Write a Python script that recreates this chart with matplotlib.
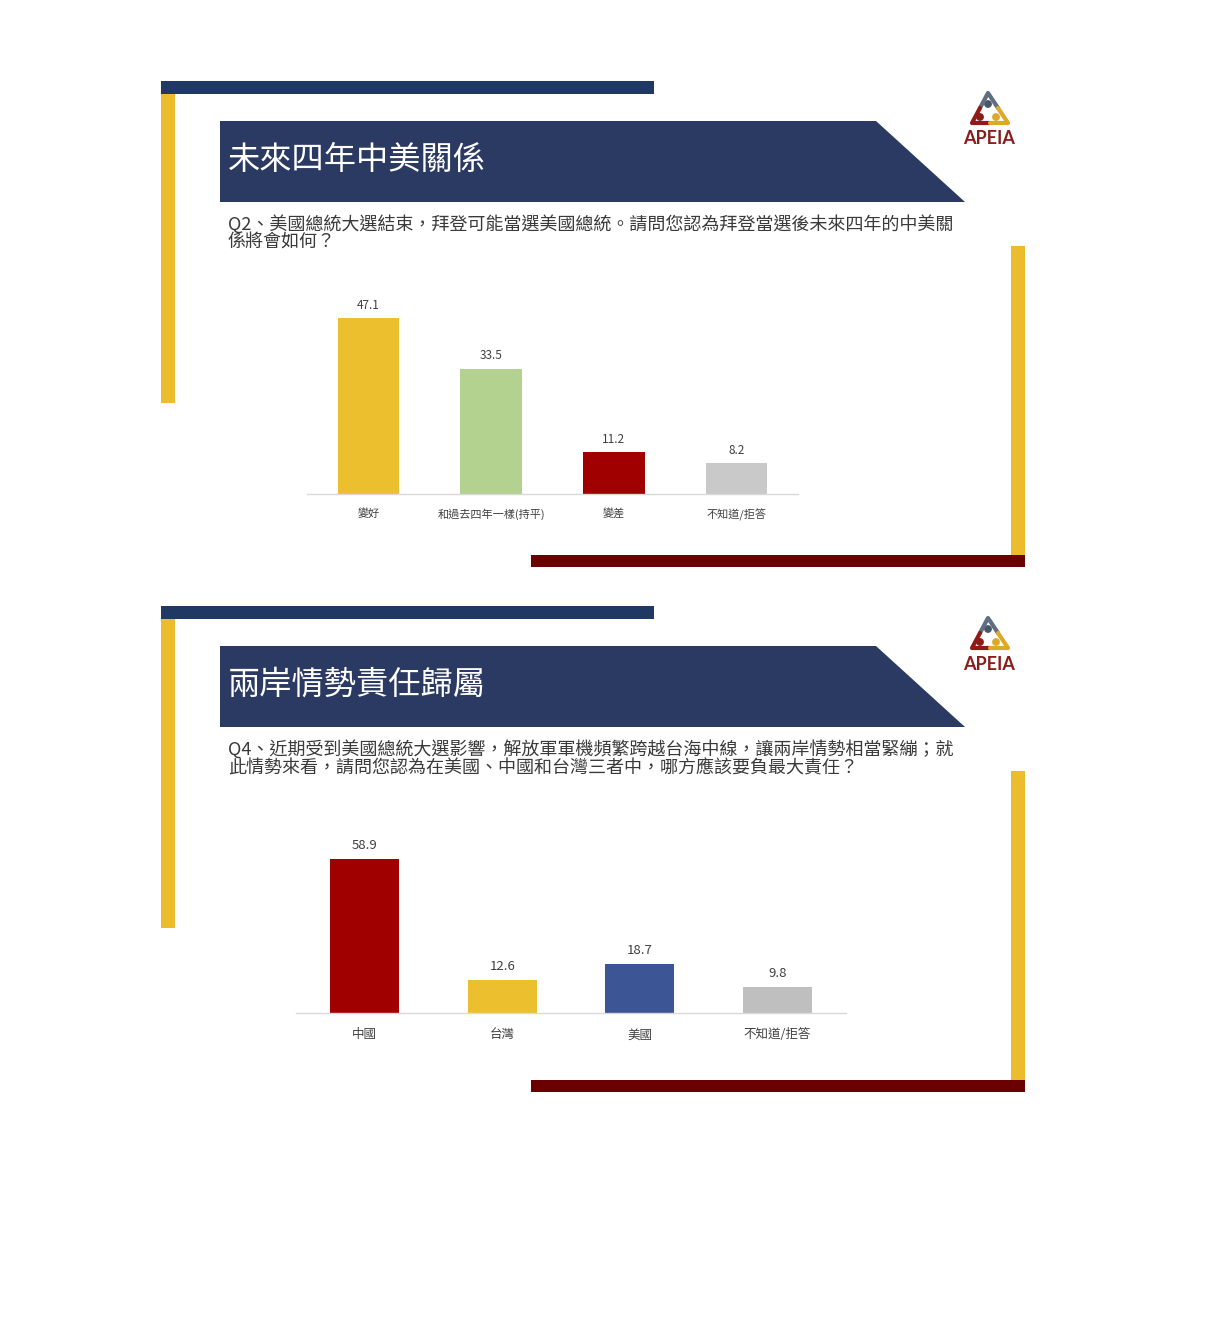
import matplotlib
matplotlib.use("Agg")
import matplotlib.pyplot as plt
from matplotlib.patches import Polygon, Rectangle, Circle

plt.rcParams['font.family'] = ['Noto Sans CJK TC', 'DejaVu Sans']

W, H = 1224, 1319

# chart data
q2_title = "未來四年中美關係"
q2_lines = ["Q2、美國總統大選結束，拜登可能當選美國總統。請問您認為拜登當選後未來四年的中美關",
            "係將會如何？"]
q2_cats = ["變好", "和過去四年一樣(持平)", "變差", "不知道/拒答"]
q2_vals = [47.1, 33.5, 11.2, 8.2]
q2_colors = ["#EBBF2D", "#B3D18F", "#A10000", "#C9C9C9"]

q4_title = "兩岸情勢責任歸屬"
q4_lines = ["Q4、近期受到美國總統大選影響，解放軍軍機頻繁跨越台海中線，讓兩岸情勢相當緊繃；就",
            "此情勢來看，請問您認為在美國、中國和台灣三者中，哪方應該要負最大責任？"]
q4_cats = ["中國", "台灣", "美國", "不知道/拒答"]
q4_vals = [58.9, 12.6, 18.7, 9.8]
q4_colors = ["#A10000", "#EBBF2D", "#3C5594", "#BFBFBF"]

NAVY = "#1F3864"
BANNER = "#2B3A63"
YELLOW = "#EBBC2C"
DARKRED = "#6B0000"

fig = plt.figure(figsize=(W / 100, H / 100), dpi=100)
bg = fig.add_axes([0, 0, 1, 1])
bg.set_xlim(0, W)
bg.set_ylim(H, 0)
bg.axis('off')


def px_axes(left, top, right, bottom):
    return fig.add_axes([left / W, 1 - bottom / H, (right - left) / W, (bottom - top) / H])


def logo(cx, top):
    # small stylised triangle of the APEIA logo
    t = (cx, top + 10)
    bl = (cx - 16, top + 40)
    br = (cx + 20, top + 40)
    ml = ((t[0] + bl[0]) / 2, (t[1] + bl[1]) / 2)
    mr = ((t[0] + br[0]) / 2, (t[1] + br[1]) / 2)
    mb = ((bl[0] + br[0]) / 2, bl[1])
    bg.plot([ml[0], t[0], mr[0]], [ml[1], t[1], mr[1]], color="#5F6E80", lw=3, solid_capstyle='round')
    bg.plot([ml[0], bl[0], mb[0]], [ml[1], bl[1], mb[1]], color="#8E1B16", lw=3, solid_capstyle='round')
    bg.plot([mr[0], br[0], mb[0]], [mr[1], br[1], mb[1]], color="#E0A82A", lw=3, solid_capstyle='round')
    bg.add_patch(Circle((cx, top + 21), 3.2, color="#4A5565"))
    bg.add_patch(Circle((cx - 8, top + 34), 3.2, color="#8E1B16"))
    bg.add_patch(Circle((cx + 8, top + 34), 3.2, color="#E0A82A"))
    bg.text(cx + 1, top + 56, "APEIA", color="#8B1C1C", fontsize=13, ha='center', va='center',
            family=['Lato', 'DejaVu Sans'], fontweight='bold')


def slide(y0, title, lines):
    bg.add_patch(Rectangle((161, y0), 493, 13, color=NAVY, lw=0))
    bg.add_patch(Rectangle((161, y0 + 13), 14, 309, color=YELLOW, lw=0))
    bg.add_patch(Polygon([(220, y0 + 40), (876, y0 + 40), (965, y0 + 121), (220, y0 + 121)],
                         closed=True, color=BANNER, lw=0))
    bg.text(228, y0 + 79, title, color="white", fontsize=23.2, ha='left', va='center', fontweight='medium')
    for i, ln in enumerate(lines):
        bg.text(228, y0 + 143 + 19 * i, ln, color="#3A3A3A", fontsize=13, ha='left', va='center')
    bg.add_patch(Rectangle((1011, y0 + 165), 14, 321, color=YELLOW, lw=0))
    bg.add_patch(Rectangle((531, y0 + 474), 494, 12, color=DARKRED, lw=0))
    logo(988, y0 + 2)


def bars(ax, cats, vals, colors, ytop, lab_size, num_size, tick_pad, num_pad):
    x = range(len(cats))
    b = ax.bar(x, vals, width=0.5, color=colors)
    ax.bar_label(b, labels=[f"{v:.1f}" for v in vals], padding=num_pad, fontsize=num_size, color="#404040")
    ax.set_xlim(-0.5, len(cats) - 0.5)
    ax.set_ylim(0, ytop)
    ax.set_xticks(list(x))
    ax.set_xticklabels(cats, fontsize=lab_size, color="#404040")
    ax.tick_params(axis='x', length=0, pad=tick_pad)
    ax.set_yticks([])
    for s in ['top', 'right', 'left']:
        ax.spines[s].set_visible(False)
    ax.spines['bottom'].set_color("#D9D9D9")
    ax.spines['bottom'].set_linewidth(1)
    ax.patch.set_alpha(0)


slide(81, q2_title, q2_lines)
slide(606, q4_title, q4_lines)

ax1 = px_axes(307, 290, 798, 494)
bars(ax1, q2_cats, q2_vals, q2_colors, (494 - 290) / 3.74, 8, 8.5, 10.5, 4.5)

ax2 = px_axes(296, 830, 846, 1013)
bars(ax2, q4_cats, q4_vals, q4_colors, (1013 - 830) / 2.62, 9, 9.5, 11, 5)

fig.savefig("out.png", dpi=100, facecolor="white")
